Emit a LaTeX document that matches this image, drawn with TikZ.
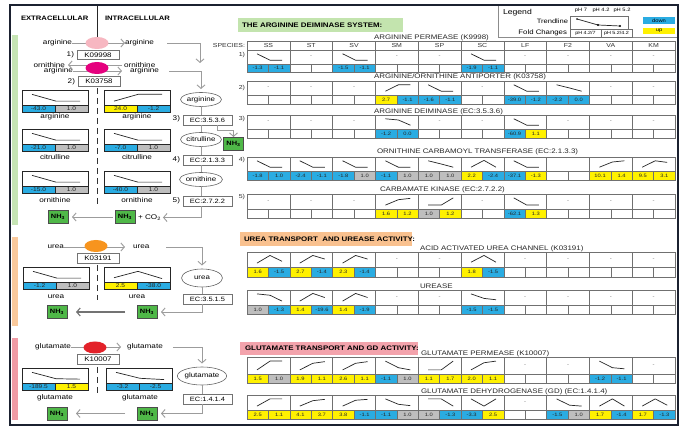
\documentclass[tikz,border=0pt]{standalone}
\usepackage{fontspec}
\setmainfont{Liberation Sans}[FakeStretch=1.2]
\usetikzlibrary{arrows.meta,shapes.geometric,calc}
\definecolor{cblue}{HTML}{2AACE2}
\definecolor{cyel}{HTML}{FFF100}
\definecolor{cgray}{HTML}{BEBEBE}
\definecolor{cgreen}{HTML}{4FB848}
\definecolor{framec}{HTML}{1B2130}
\definecolor{hgreen}{HTML}{C3E4AE}
\definecolor{horange}{HTML}{F9C18F}
\definecolor{hpink}{HTML}{F3A3AC}
\definecolor{bgreen}{HTML}{C6E4B4}
\definecolor{borange}{HTML}{FAC99C}
\definecolor{bpink}{HTML}{F19CA6}
\definecolor{epink}{HTML}{F7B7C1}
\definecolor{emag}{HTML}{E5007E}
\definecolor{eorange}{HTML}{F7941E}
\definecolor{ered}{HTML}{E32129}
\definecolor{gridc}{HTML}{707070}
\definecolor{arrc}{HTML}{9C9C9C}
\newcommand\myfs[1]{\fontsize{#1}{#1}\selectfont}
% table row grid
\newcommand\rowgrid{%
  \foreach \gc in {0,...,9}{%
    \pgfmathsetmacro\gxa{247+42.8*\gc}%
    \pgfmathsetmacro\gxb{\gxa+21.4}%
    \pgfmathsetmacro\gxc{\gxa+42.8}%
    \draw[gridline] (\gxa,\rtop) rectangle (\gxc,\rmid);
    \draw[gridline] (\gxa,\rmid) rectangle (\gxb,\rbot);
    \draw[gridline] (\gxb,\rmid) rectangle (\gxc,\rbot);
  }}
\newcommand\setrow[3]{\def\rtop{#1}\def\rmid{#2}\def\rbot{#3}\rowgrid}
\newcommand\tdash[1]{%
  \pgfmathsetmacro\tdx{247+42.8*#1+21.4}%
  \pgfmathsetmacro\tdy{(\rtop+\rmid)/2}%
  \pgfmathtruncatemacro\tcid{#1*1000+\rtop}%
  \node[dashtxt] (td\tcid) at (\tdx,\tdy) {-};}
\newcommand\tcell[8]{%
  \pgfmathsetmacro\xa{247+42.8*#1}%
  \pgfmathsetmacro\xb{\xa+21.4}%
  \pgfmathsetmacro\xc{\xa+42.8}%
  \pgfmathsetmacro\ya{\rtop+3+(1-#2)*(\rmid-\rtop-6)}%
  \pgfmathsetmacro\yb{\rtop+3+(1-#3)*(\rmid-\rtop-6)}%
  \pgfmathsetmacro\yc{\rtop+3+(1-#4)*(\rmid-\rtop-6)}%
  \pgfmathsetmacro\ym{(\rmid+\rbot)/2}%
  \pgfmathtruncatemacro\tcid{#1*1000+\rtop}%
  \draw[trend] (\xa+10,\ya) -- (\xa+23,\yb) -- (\xa+35,\yc);
  \draw[gridline,fill=#6] (\xa,\rmid) rectangle (\xb,\rbot);
  \draw[gridline,fill=#8] (\xb,\rmid) rectangle (\xc,\rbot);
  \node[val] (tc\tcid a) at (\xa+10.7,\ym) {#5};
  \node[val] (tc\tcid b) at (\xb+10.7,\ym) {#7};}
\newcommand\minichart[9]{%
  \pgfmathsetmacro\mxa{#1}%
  \pgfmathsetmacro\mxb{#1+33}%
  \pgfmathsetmacro\mxc{#1+66}%
  \pgfmathsetmacro\mya{#2}%
  \pgfmathsetmacro\myb{#2+14.5}%
  \pgfmathsetmacro\myc{#2+22}%
  \pgfmathtruncatemacro\mcid{#1*100+#2}%
  \draw[mframe] (\mxa,\mya) rectangle (\mxc,\myb);
  \draw[trend] (\mxa+10,{\mya+3+(1-#3)*8.5}) -- (\mxa+34,{\mya+3+(1-#4)*8.5}) -- (\mxa+58,{\mya+3+(1-#5)*8.5});
  \draw[mframe,fill=#7] (\mxa,\myb) rectangle (\mxb,\myc);
  \draw[mframe,fill=#9] (\mxb,\myb) rectangle (\mxc,\myc);
  \node[lval] (mc\mcid a) at (\mxa+16.5,\myb+3.75) {#6};
  \node[lval] (mc\mcid b) at (\mxb+16.5,\myb+3.75) {#8};}
\begin{document}
\begin{tikzpicture}[x=1pt,y=-1pt,
  every node/.style={inner sep=0pt,outer sep=0pt},
  lbl/.style={font=\myfs{6.8}},
  hdrl/.style={font=\bfseries\myfs{6.4}},
  sectbox/.style={anchor=west, minimum height=14pt},
  secttxt/.style={font=\bfseries\myfs{6.6}, anchor=west},
  ttl/.style={font=\myfs{6.6}, anchor=base west, text=black!85},
  spc/.style={font=\myfs{5.8}, text=black!80},
  val/.style={font=\myfs{4.8}, text=black!85},
  lval/.style={font=\myfs{5.5}, text=black!85},
  dashtxt/.style={font=\myfs{5}, text=black!60},
  gridline/.style={draw=gridc, line width=0.6pt},
  mframe/.style={draw=black!85, line width=0.7pt},
  trend/.style={draw=black!85, line width=0.7pt, line join=round},
  ecbox/.style={draw=black!55, fill=white, line width=0.6pt, minimum width=49pt, minimum height=10pt, font=\myfs{6.2}},
  kbox/.style={draw=black!55, fill=white, line width=0.6pt, minimum width=42pt, minimum height=9.5pt, font=\myfs{6.6}},
  met/.style={ellipse, draw=black!60, fill=white, line width=0.6pt, minimum width=41pt, minimum height=14pt, font=\myfs{6.6}},
  tp/.style={ellipse, minimum width=23pt, minimum height=12pt},
  nhbox/.style={draw=black!70, line width=0.5pt, fill=cgreen, minimum width=20pt, minimum height=13pt, font=\bfseries\myfs{6.2}},
  pline/.style={draw=arrc, line width=0.9pt},
  parrow/.style={pline, -{Straight Barb[length=3.5pt,width=8pt]}},
  darrow/.style={draw=black!55, line width=1.1pt, -{Straight Barb[length=3.5pt,width=8pt]}},
  dividerd/.style={draw=black!80, line width=0.8pt, dash pattern=on 6pt off 4pt},
]
\useasboundingbox (0,0) rectangle (697,435);
\fill[white] (0,0) rectangle (697,435);
% colour bars
\fill[bgreen] (12,35) rectangle (18,225);
\fill[borange] (12,237) rectangle (18,326);
\fill[bpink] (12,338) rectangle (18,420);
% legend
\draw[draw=black!45, line width=0.6pt] (498,5) rectangle (678,37);
\node[font=\myfs{7.2}, anchor=west] (lg) at (503,13) {Legend};
\node[font=\myfs{6.3}, anchor=east] (lgt) at (568,21.5) {Trendline};
\node[font=\myfs{6.5}, anchor=east] (lgf) at (567,33) {Fold Changes};
\draw[gridline] (570,16) rectangle (628,29);
\draw[trend] (577,19) -- (598,25) -- (620,26);
\fill (577,19) circle (0.9pt) (598,25) circle (1.1pt) (620,26) circle (1.1pt);
\node[font=\myfs{4.8}] (p1) at (581,10) {pH 7};
\node[font=\myfs{4.8}] (p2) at (601,10) {pH 4.2};
\node[font=\myfs{4.8}] (p3) at (622,10) {pH 5.2};
\draw[gridline] (570,29) rectangle (601,37) (601,29) rectangle (632,37);
\node[font=\myfs{4.5}] (f1) at (585.5,33) {pH 4.2/7};
\node[font=\myfs{4.5}] (f2) at (616.5,33) {pH 5.2/4.2};
\node[fill=cblue, minimum width=32pt, minimum height=7pt, font=\myfs{4.8}] (dn) at (659,20.5) {down};
\node[fill=cyel, minimum width=32pt, minimum height=6.5pt, font=\myfs{4.8}] (up) at (659,31) {up};
% frame
\draw[framec, line width=2.8pt] (10,5) rectangle (678,425);
% headers
\node[hdrl, anchor=west] (ext) at (21,18) {EXTRACELLULAR};
\node[hdrl, anchor=west] (int) at (105,18) {INTRACELLULAR};
\draw[black!85, line width=0.8pt] (97,6) -- (97,40);
% ===== arginine transport =====
\node[lbl, anchor=east] (argout) at (72,43) {arginine};
\node[lbl, anchor=west] (argin) at (125,43) {arginine};
\draw[parrow] (argout) -- (argin);
\node[tp, fill=epink] (e1) at (97,43) {};
\node[lbl, anchor=east] (n1) at (74,55) {1)};
\node[kbox] (k1) at (98,55) {K09998};
\node[lbl, anchor=east] (ornout) at (65,65) {ornithine};
\node[lbl, anchor=east] (argout2) at (73,71) {arginine};
\node[lbl, anchor=west] (ornin) at (124,65) {ornithine};
\node[lbl, anchor=west] (argin2) at (130,71) {arginine};
\draw[parrow] ([xshift=-2pt]ornin.west) -- ([xshift=3pt]ornout.east);
\draw[parrow] (argout2) -- ([xshift=-8pt]argin2.west);
\node[tp, fill=emag] (e2) at (97,68) {};
\node[lbl, anchor=east] (n2) at (75,81.5) {2)};
\node[kbox] (k2) at (99,81.5) {K03758};
\minichart{22}{90.5}{.9}{.1}{.1}{-43.0}{cblue}{1.0}{cgray}
\minichart{104}{90.5}{.1}{.9}{.9}{24.0}{cyel}{-1.2}{cblue}
\node[lbl] (la1) at (55,117) {arginine};
\node[lbl] (la2) at (137,117) {arginine};
\minichart{22}{129.5}{.9}{.1}{.1}{-21.0}{cblue}{1.0}{cgray}
\minichart{104}{129.5}{.9}{.1}{.1}{-7.0}{cblue}{1.0}{cgray}
\node[lbl] (lc1) at (55,157) {citrulline};
\node[lbl] (lc2) at (137,157) {citrulline};
\minichart{22}{171.5}{.9}{.1}{.1}{-15.0}{cblue}{1.0}{cgray}
\minichart{104}{171.5}{.9}{.1}{.1}{-40.0}{cblue}{1.0}{cgray}
\node[lbl] (lo1) at (55,200) {ornithine};
\node[lbl] (lo2) at (137,200) {ornithine};
\draw[dividerd] (97,88) -- (97,205);
% pathway
\node[met] (arg) at (201,99.5) {arginine};
\node[ecbox] (ec1) at (207.5,120) {EC:3.5.3.6};
\node[met] (cit) at (201,139.5) {citrulline};
\node[ecbox] (ec2) at (207.5,160.5) {EC:2.1.3.3};
\node[met] (orn) at (201,179.5) {ornithine};
\node[ecbox] (ec3) at (207.5,201.5) {EC:2.7.2.2};
\node[lbl, anchor=east] (n3) at (180,119) {3)};
\node[lbl, anchor=east] (n4) at (180,160) {4)};
\node[lbl, anchor=east] (n5) at (180,201) {5)};
\coordinate (j1) at (200,63);
\draw[parrow] ([xshift=13pt]argin.east) -| (j1);
\draw[parrow] ([xshift=10pt]argin2.east) -| ([yshift=3.5pt]arg.north);
\draw[pline] (arg.south) -- (arg.south |- ec1.north);
\draw[pline] (arg.south |- ec1.south) -- (cit.north);
\draw[pline] (cit.south) -- (cit.south |- ec2.north);
\draw[pline] (cit.south |- ec2.south) -- (orn.north);
\draw[pline] (orn.south) -- (orn.south |- ec3.north);
\node[nhbox] (nh1) at (233.5,143.5) {NH\textsubscript{3}};
\draw[parrow] ([xshift=9.5pt]ec1.south) -- ++(0,5) -| (nh1.north);
\node[nhbox] (nh2) at (125,217) {NH\textsubscript{3}};
\node[lbl, anchor=west] (co2) at (138,217.5) {+ CO\textsubscript{2}};
\node[nhbox] (nh3) at (58,217) {NH\textsubscript{3}};
\draw[parrow] (orn.south |- ec3.south) |- ([xshift=2pt]co2.east);
\draw[parrow, shorten <=2pt, shorten >=4pt] (nh2.west) -- (nh3.east);
% ===== urea =====
\node[lbl, anchor=east] (ureaout) at (64,247) {urea};
\node[lbl, anchor=west] (ureain) at (133,247) {urea};
\draw[parrow] (ureaout) -- ([xshift=-8pt]ureain.west);
\node[tp, fill=eorange] (e3) at (96,246) {};
\node[kbox] (k3) at (98,258.5) {K03191};
\node[met, minimum height=18pt] (urea) at (202,278) {urea};
\draw[parrow] ([xshift=17pt]ureain.east) -| ([yshift=3.5pt]urea.north);
\minichart{23}{267.5}{.9}{.1}{.1}{-1.2}{cblue}{1.0}{cgray}
\minichart{104}{267.5}{.15}{.9}{.05}{2.5}{cyel}{-38.0}{cblue}
\node[lbl] (lu1) at (56,297) {urea};
\node[lbl] (lu2) at (137,297) {urea};
\draw[dividerd] (97,265) -- (97,300);
\node[ecbox] (ec4) at (207.5,299) {EC:3.5.1.5};
\draw[pline] (urea.south) -- (urea.south |- ec4.north);
\node[nhbox] (nh4) at (147,312) {NH\textsubscript{3}};
\node[nhbox] (nh5) at (57,312) {NH\textsubscript{3}};
\draw[parrow, shorten >=4pt] (urea.south |- ec4.south) |- (nh4.east);
\draw[darrow, shorten <=12pt, shorten >=9pt] (nh4.west) -- (nh5.east);
% ===== glutamate =====
\node[lbl, anchor=east] (gluout) at (71,347) {glutamate};
\node[lbl, anchor=west] (gluin) at (127,347) {glutamate};
\draw[parrow] (gluout) -- ([xshift=-6pt]gluin.west);
\node[tp, fill=ered] (e4) at (95,347.5) {};
\node[kbox] (k4) at (98,359.5) {K10007};
\node[met, minimum height=18pt] (glu) at (202,376) {glutamate};
\draw[parrow] ([xshift=10pt]gluin.east) -| ([yshift=3.5pt]glu.north);
\minichart{22}{368.5}{.9}{.15}{.1}{-189.5}{cblue}{1.5}{cyel}
\minichart{106}{368.5}{.9}{.2}{.05}{-3.2}{cblue}{-2.5}{cblue}
\node[lbl] (lg1) at (55,397.5) {glutamate};
\node[lbl] (lg2) at (140,397.5) {glutamate};
\draw[dividerd] (97,367) -- (97,395);
\node[ecbox] (ec5) at (207.5,399.5) {EC:1.4.1.4};
\draw[pline] (glu.south) -- (glu.south |- ec5.north);
\node[nhbox] (nh6) at (147,413.5) {NH\textsubscript{3}};
\node[nhbox] (nh7) at (57,413.5) {NH\textsubscript{3}};
\draw[parrow, shorten >=4pt] (glu.south |- ec5.south) |- (nh6.east);
\draw[parrow, shorten <=12pt, shorten >=9pt] (nh6.west) -- (nh7.east);
% ===== right tables =====
\node[sectbox, fill=hgreen, minimum width=165pt] (s1) at (238,25) {};
\node[secttxt] (s1t) at (242,25) {THE ARGININE DEIMINASE SYSTEM:};
\node[sectbox, fill=horange, minimum width=172pt] (s2) at (240,239) {};
\node[secttxt] (s2t) at (244,239) {UREA TRANSPORT\ \ AND UREASE ACTIVITY:};
\node[sectbox, fill=hpink, minimum width=178pt, minimum height=13pt] (s3) at (240,348.5) {};
\node[secttxt] (s3t) at (245,348.5) {GLUTAMATE TRANSPORT AND GD ACTIVITY:};
\node[spc, anchor=east] (spec) at (245,45.5) {SPECIES:};
\foreach \c/\s in {0/SS,1/ST,2/SV,3/SM,4/SP,5/SC,6/LF,7/F2,8/VA,9/KM}{
  \pgfmathsetmacro\hx{247+42.8*\c}
  \draw[gridline] (\hx,41) rectangle (\hx+42.8,50);
  \node[spc] (sp\s) at (\hx+21.4,45.5) {\s};
}
% row 1
\node[ttl] (t1) at (374,39.5) {ARGININE PERMEASE (K9998)};
\node[spc, anchor=east] (r1) at (245,55) {1)};
\setrow{50}{64}{72}
\tcell{0}{.9}{.1}{.1}{-1.3}{cblue}{-1.1}{cblue}
\tdash{1}
\tcell{2}{.9}{.1}{.1}{-1.5}{cblue}{-1.1}{cblue}
\tdash{3}\tdash{4}
\tcell{5}{.9}{.1}{.1}{-1.9}{cblue}{-1.1}{cblue}
\tdash{6}\tdash{7}\tdash{8}\tdash{9}
% row 2
\node[ttl] (t2) at (374,79) {ARGININE/ORNITHINE ANTIPORTER (K03758)};
\node[spc, anchor=east] (r2) at (245,88) {2)};
\setrow{81}{95}{104}
\tdash{0}\tdash{1}\tdash{2}
\tcell{3}{.1}{.9}{.9}{2.7}{cyel}{-1.1}{cblue}
\tcell{4}{.9}{.1}{.1}{-1.6}{cblue}{-1.1}{cblue}
\tdash{5}
\tcell{6}{.9}{.1}{.1}{-39.0}{cblue}{-1.2}{cblue}
\tcell{7}{.9}{.5}{.1}{-2.2}{cblue}{0.0}{cblue}
\tdash{8}\tdash{9}
% row 3
\node[ttl] (t3) at (374,113.5) {ARGININE DEIMINASE (EC:3.5.3.6)};
\node[spc, anchor=east] (r3) at (245,119) {3)};
\setrow{115}{129}{138}
\tdash{0}\tdash{1}\tdash{2}
\tcell{3}{.9}{.75}{.1}{-1.2}{cblue}{0.0}{cblue}
\tdash{4}\tdash{5}
\tcell{6}{.9}{.1}{.1}{-60.9}{cblue}{1.1}{cyel}
\tdash{7}\tdash{8}\tdash{9}
% row 4
\node[ttl] (t4) at (377,153.5) {ORNITHINE CARBAMOYL TRANSFERASE (EC:2.1.3.3)};
\node[spc, anchor=east] (r4) at (245,160) {4)};
\setrow{157}{171}{180}
\tcell{0}{.9}{.1}{.1}{-1.8}{cblue}{1.0}{cblue}
\tcell{1}{.9}{.1}{.1}{-2.4}{cblue}{-1.1}{cblue}
\tcell{2}{.9}{.1}{.1}{-1.8}{cblue}{1.0}{cgray}
\tcell{3}{.9}{.1}{.1}{-1.1}{cblue}{1.0}{cgray}
\tcell{4}{.9}{.5}{.1}{1.0}{cgray}{1.0}{cgray}
\tcell{5}{.1}{.95}{.1}{2.2}{cyel}{-2.4}{cblue}
\tcell{6}{.9}{.1}{.1}{-37.1}{cblue}{-1.3}{cyel}
\tcell{8}{.1}{.75}{.9}{10.1}{cyel}{1.4}{cyel}
\tcell{9}{.1}{.9}{.7}{9.5}{cyel}{3.1}{cyel}
% row 5
\node[ttl] (t5) at (380,192) {CARBAMATE KINASE (EC:2.7.2.2)};
\node[spc, anchor=east] (r5) at (245,197) {5)};
\setrow{194}{209}{218}
\tdash{0}\tdash{1}\tdash{2}
\tcell{3}{.1}{.7}{.85}{1.6}{cyel}{1.2}{cyel}
\tcell{4}{.1}{.1}{.9}{1.0}{cgray}{1.2}{cyel}
\tdash{5}
\tcell{6}{.9}{.1}{.1}{-62.1}{cblue}{1.3}{cyel}
\tdash{7}\tdash{8}\tdash{9}
% urea channel
\node[ttl] (t6) at (420,251) {ACID ACTIVATED UREA CHANNEL (K03191)};
\setrow{252}{267}{277}
\tcell{0}{.1}{.95}{.3}{1.6}{cyel}{-1.5}{cblue}
\tcell{1}{.1}{.95}{.55}{2.7}{cyel}{-1.4}{cblue}
\tcell{2}{.1}{.95}{.55}{2.3}{cyel}{-1.4}{cblue}
\tdash{3}\tdash{4}
\tcell{5}{.2}{.95}{.2}{1.8}{cyel}{-1.5}{cblue}
\tdash{6}\tdash{7}\tdash{8}\tdash{9}
% urease
\node[ttl] (t7) at (420,288.5) {UREASE};
\setrow{290}{305}{314}
\tcell{0}{.9}{.75}{.1}{1.0}{cgray}{-1.3}{cblue}
\tcell{1}{.1}{.95}{.5}{1.4}{cyel}{-19.6}{cblue}
\tcell{2}{.1}{.95}{.5}{1.4}{cyel}{-1.9}{cblue}
\tdash{3}\tdash{4}
\tcell{5}{.9}{.4}{.25}{-1.5}{cblue}{-1.5}{cblue}
\tdash{6}\tdash{7}\tdash{8}\tdash{9}
% glutamate permease
\node[ttl] (t8) at (421,356) {GLUTAMATE PERMEASE (K10007)};
\setrow{357}{374}{383}
\tcell{0}{.1}{.9}{.9}{1.5}{cyel}{1.0}{cgray}
\tcell{1}{.1}{.7}{.85}{1.9}{cyel}{1.1}{cyel}
\tcell{2}{.1}{.7}{.85}{2.6}{cyel}{1.1}{cyel}
\tcell{3}{.9}{.3}{.1}{-1.1}{cblue}{1.0}{cgray}
\tcell{4}{.1}{.1}{.9}{1.1}{cyel}{1.7}{cyel}
\tcell{5}{.1}{.75}{.9}{2.0}{cyel}{1.1}{cyel}
\tdash{6}\tdash{7}
\tcell{8}{.9}{.3}{.2}{-1.2}{cblue}{-1.1}{cblue}
\tdash{9}
% glutamate dehydrogenase
\node[ttl] (t9) at (421,394) {GLUTAMATE DEHYDROGENASE (GD) (EC:1.4.1.4)};
\setrow{395}{410}{419}
\tcell{0}{.1}{.9}{.9}{2.5}{cyel}{1.1}{cyel}
\tcell{1}{.1}{.7}{.85}{4.1}{cyel}{3.7}{cyel}
\tcell{2}{.1}{.75}{.85}{3.8}{cyel}{-1.1}{cblue}
\tcell{3}{.9}{.3}{.15}{-1.1}{cblue}{1.0}{cgray}
\tcell{4}{.9}{.9}{.1}{1.0}{cgray}{-1.3}{cblue}
\tcell{5}{.9}{.1}{.9}{-3.3}{cblue}{2.5}{cyel}
\tdash{6}
\tcell{7}{.9}{.2}{.1}{-1.5}{cblue}{1.0}{cgray}
\tcell{8}{.1}{.9}{.1}{1.7}{cyel}{-1.4}{cblue}
\tcell{9}{.1}{.9}{.2}{1.7}{cyel}{-1.3}{cblue}
\end{tikzpicture}
\end{document}
